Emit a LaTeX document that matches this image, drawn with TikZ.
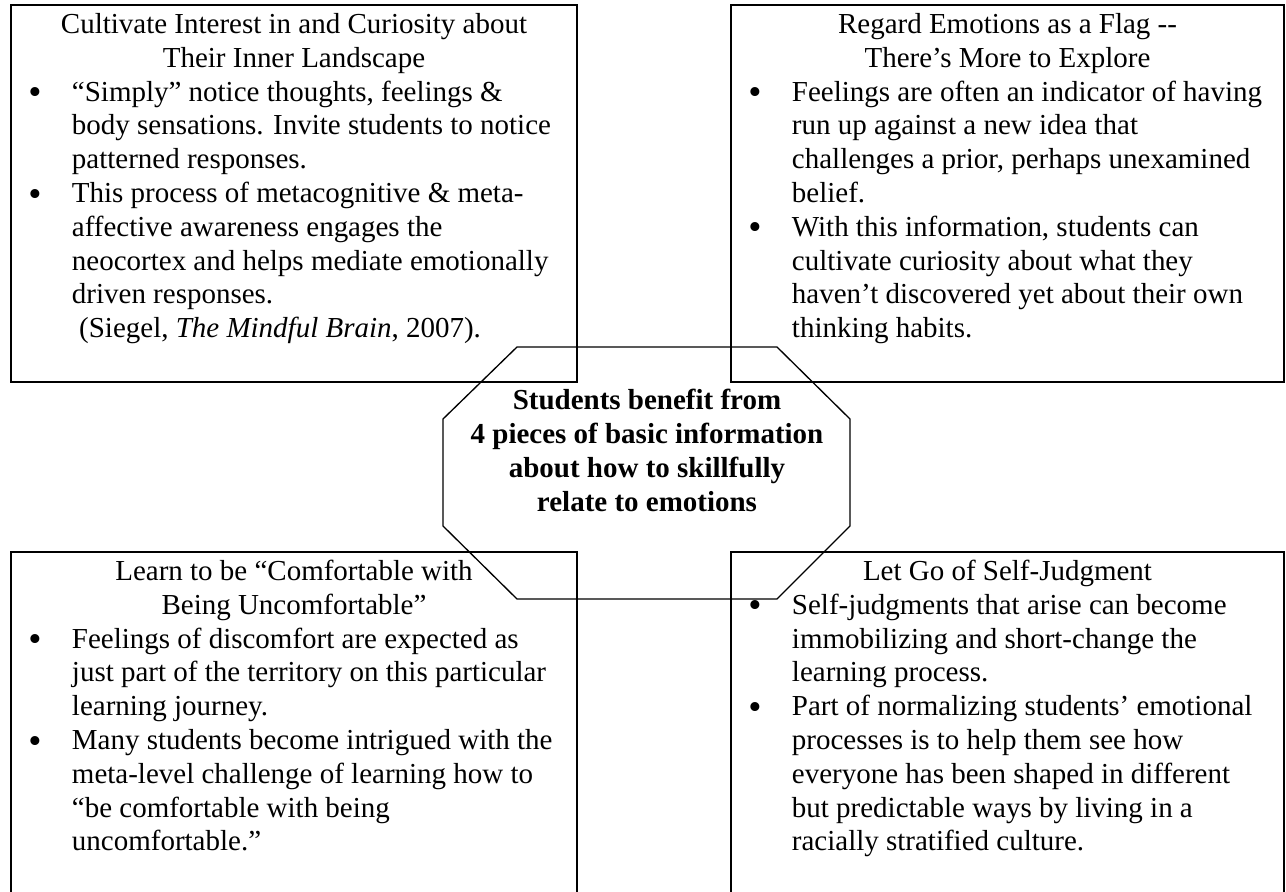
\documentclass[tikz,border=0pt]{standalone}
\usepackage{fontspec}
\setmainfont{Liberation Serif}
\usetikzlibrary{positioning}

% bullet and hanging indent for the lists
\newcommand{\itm}{\makebox[18pt][l]{\raisebox{-1.5pt}{\scalebox{1.3}{\textbullet}}}}
\newcommand{\cont}{\hspace*{18pt}}

\begin{document}
\begin{tikzpicture}[x=0.414pt, y=-0.414pt,
        panel/.style={draw, line width=0.8pt},
        txt/.style={inner sep=0pt, font=\fontsize{12}{14}\selectfont},
        head/.style={txt, align=center, anchor=north},
        body/.style={txt, align=left, anchor=north west},
        hub/.style={inner sep=0pt, align=center, font=\fontsize{12}{14}\selectfont\bfseries}]
    \useasboundingbox (0,0) rectangle (1286,892);

    % the four panels
    \draw[panel] (11,5) rectangle (577,382);
    \draw[panel] (731,5) rectangle (1284,382);
    \draw[panel] (11,552) rectangle (577,894);
    \draw[panel] (731,552) rectangle (1284,894);

    % top left
    \node[head] (cultHead) at (294,9.3) {\strut Cultivate Interest in and Curiosity about\\ Their Inner Landscape\strut};
    \node[body] (cultBody) at (28,76.9) {\strut\itm “Simply” notice thoughts, feelings \&\\
        \cont body sensations. Invite students to notice\\
        \cont patterned responses.\\
        \itm This process of metacognitive \& meta-\\
        \cont affective awareness engages the\\
        \cont neocortex and helps mediate emotionally\\
        \cont driven responses.\\
        \cont\ (Siegel, \textit{The Mindful Brain}, 2007).\strut};

    % top right
    \node[head] (flagHead) at (1007.5,9.3) {\strut Regard Emotions as a Flag -{}-\\ There’s More to Explore\strut};
    \node[body] (flagBody) at (748,76.9) {\strut\itm Feelings are often an indicator of having\\
        \cont run up against a new idea that\\
        \cont challenges a prior, perhaps unexamined\\
        \cont belief.\\
        \itm With this information, students can\\
        \cont cultivate curiosity about what they\\
        \cont haven’t discovered yet about their own\\
        \cont thinking habits.\strut};

    % bottom left
    \node[head] (comfHead) at (294,556.3) {\strut Learn to be “Comfortable with\\ Being Uncomfortable”\strut};
    \node[body] (comfBody) at (28,623.9) {\strut\itm Feelings of discomfort are expected as\\
        \cont just part of the territory on this particular\\
        \cont learning journey.\\
        \itm Many students become intrigued with the\\
        \cont meta-level challenge of learning how to\\
        \cont “be comfortable with being\\
        \cont uncomfortable.”\strut};

    % bottom right
    \node[head] (judgHead) at (1007.5,556.3) {\strut Let Go of Self-Judgment\strut};
    \node[body] (judgBody) at (748,590.1) {\strut\itm Self-judgments that arise can become\\
        \cont immobilizing and short-change the\\
        \cont learning process.\\
        \itm Part of normalizing students’ emotional\\
        \cont processes is to help them see how\\
        \cont everyone has been shaped in different\\
        \cont but predictable ways by living in a\\
        \cont racially stratified culture.\strut};

    % centre octagon over the panels
    \draw[line width=0.55pt] (517,347) -- (777,347) -- (850,419) -- (850,526)
        -- (777,599) -- (517,599) -- (443,526) -- (443,419) -- cycle;
    \node[hub] (hub) at (647,453.9) {\strut Students benefit from\\ 4 pieces of basic information\\
        about how to skillfully\\ relate to emotions\strut};
\end{tikzpicture}
\end{document}
